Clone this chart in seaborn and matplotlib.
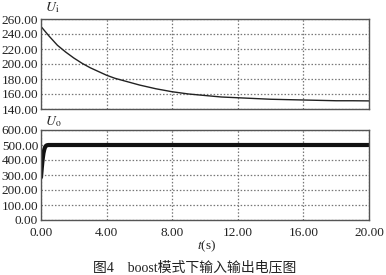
import matplotlib
matplotlib.use("Agg")
import matplotlib.pyplot as plt
import seaborn as sns
import pandas as pd

# Input voltage U_i (top panel)
t_in = [0, 0.5, 1, 1.5, 2, 2.5, 3, 3.5, 4, 4.5, 5, 5.5, 6, 7, 8, 9, 10, 11, 12, 13, 14, 15, 16, 17, 18, 19, 20]
u_in = [250, 237, 225, 216, 208, 201, 195, 190, 185, 181, 178, 175, 172, 167, 163, 160, 158, 156, 155, 154, 153, 152.5, 152, 151.5, 151, 151, 150.8]

# Output voltage U_o (bottom panel)
t_out = [0, 0.05, 0.1, 0.15, 0.2, 0.25, 0.3, 0.35, 0.45, 0.6, 1, 2, 4, 6, 8, 10, 12, 14, 16, 18, 20]
u_out = [285, 350, 405, 445, 470, 486, 494, 498, 500, 500, 500, 500, 500, 500, 500, 500, 500, 500, 500, 500, 500]

x_ticks = [0, 4, 8, 12, 16, 20]
x_tick_labels = ["0.00", "4.00", "8.00", "12.00", "16.00", "20.00"]
yi_ticks = [140, 160, 180, 200, 220, 240, 260]
yo_ticks = [0, 100, 200, 300, 400, 500, 600]

caption = "图4　boost模式下输入输出电压图"

sns.set_theme(style="white")
plt.rcParams["font.family"] = ["Liberation Serif", "Noto Sans CJK SC"]
plt.rcParams["mathtext.fontset"] = "stix"

fig = plt.figure(figsize=(3.86, 2.75), dpi=100)
ax1 = fig.add_axes([41/386, 1-109/275, 328/386, 90/275])
ax2 = fig.add_axes([41/386, 1-220/275, 328/386, 90/275])

df_in = pd.DataFrame({"t": t_in, "u": u_in})
df_out = pd.DataFrame({"t": t_out, "u": u_out})
sns.lineplot(data=df_in, x="t", y="u", ax=ax1, color="#222222", linewidth=1.0)
sns.lineplot(data=df_out, x="t", y="u", ax=ax2, color="#111111", linewidth=3.0)

for ax, yt in [(ax1, yi_ticks), (ax2, yo_ticks)]:
    ax.set_xlim(0, 20)
    ax.set_ylim(yt[0], yt[-1])
    ax.set_yticks(yt)
    ax.set_yticklabels([f"{v:.2f}" for v in yt])
    ax.set_xticks(x_ticks)
    ax.set_xlabel("")
    ax.set_ylabel("")
    ax.grid(True, linestyle=(0, (1.2, 1.5)), color="#777777", linewidth=0.9)
    ax.tick_params(axis="y", length=0, pad=2, labelsize=9.5, labelcolor="#222222")
    ax.tick_params(axis="x", length=0, pad=5, labelsize=9.5, labelcolor="#222222")
    for s in ax.spines.values():
        s.set_color("#555555")
        s.set_linewidth(1.0)

ax1.set_xticklabels([])
ax2.set_xticklabels(x_tick_labels)

fig.text(45/386, 1-8/275, r"$U_\mathrm{i}$", fontsize=10, ha="left", va="center", color="#222222")
fig.text(45/386, 1-122/275, r"$U_\mathrm{o}$", fontsize=10, ha="left", va="center", color="#222222")
fig.text(207/386, 1-246/275, r"$t$(s)", fontsize=9.5, ha="center", va="center", color="#222222")
fig.text(195/386, 1-268/275, caption, fontsize=10, ha="center", va="center", color="#222222")

fig.savefig("out.png", dpi=100)
